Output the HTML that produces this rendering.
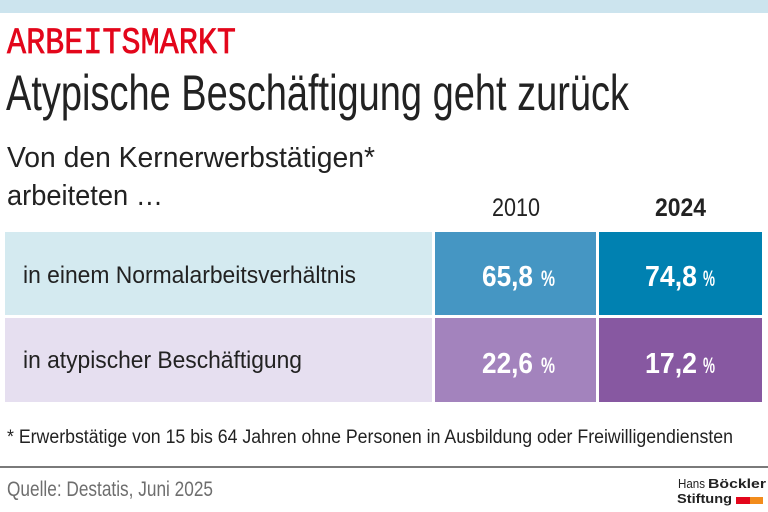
<!DOCTYPE html>
<html>
<head>
<meta charset="utf-8">
<style>
html,body{margin:0;padding:0;background:#fff;}
svg{display:block;}
</style>
</head>
<body>
<svg width="768" height="512" viewBox="0 0 768 512" xmlns="http://www.w3.org/2000/svg" font-family="Liberation Sans, sans-serif">
<rect x="0" y="0" width="768" height="512" fill="#ffffff"/>
<rect x="0" y="0" width="768" height="13" fill="#cce4ee"/>

<text x="7" y="53" style="font-family:'Liberation Mono',monospace" font-size="37" fill="#e3061b" stroke="#e3061b" stroke-width="0.7" textLength="229" lengthAdjust="spacingAndGlyphs">ARBEITSMARKT</text>

<text x="6" y="110" font-size="50" fill="#222" textLength="623" lengthAdjust="spacingAndGlyphs">Atypische Beschäftigung geht zurück</text>

<text x="7" y="167" font-size="29" fill="#222" textLength="368" lengthAdjust="spacingAndGlyphs">Von den Kernerwerbstätigen*</text>
<text x="7" y="205" font-size="29" fill="#222" textLength="156" lengthAdjust="spacingAndGlyphs">arbeiteten …</text>

<text x="492" y="216" font-size="25" fill="#222" textLength="48" lengthAdjust="spacingAndGlyphs">2010</text>
<text x="655" y="216" font-size="25" font-weight="bold" fill="#222" textLength="51" lengthAdjust="spacingAndGlyphs">2024</text>

<rect x="5" y="232" width="427" height="83" fill="#d4eaf0"/>
<rect x="435" y="232" width="161" height="83" fill="#4596c3"/>
<rect x="599" y="232" width="163" height="83" fill="#0081b1"/>
<rect x="5" y="318" width="427" height="84" fill="#e6dff0"/>
<rect x="435" y="318" width="161" height="84" fill="#a383bd"/>
<rect x="599" y="318" width="163" height="84" fill="#8758a1"/>

<text x="23" y="283" font-size="24" fill="#222" textLength="333" lengthAdjust="spacingAndGlyphs">in einem Normalarbeitsverhältnis</text>
<text x="23" y="368" font-size="24" fill="#222" textLength="279" lengthAdjust="spacingAndGlyphs">in atypischer Beschäftigung</text>

<text x="482" y="286" font-size="29" font-weight="bold" fill="#fff" textLength="51" lengthAdjust="spacingAndGlyphs">65,8</text>
<text x="541" y="286" font-size="22" font-weight="bold" fill="#fff" textLength="14" lengthAdjust="spacingAndGlyphs">%</text>
<text x="645" y="286" font-size="29" font-weight="bold" fill="#fff" textLength="52" lengthAdjust="spacingAndGlyphs">74,8</text>
<text x="703" y="286" font-size="22" font-weight="bold" fill="#fff" textLength="12" lengthAdjust="spacingAndGlyphs">%</text>
<text x="482" y="373" font-size="29" font-weight="bold" fill="#fff" textLength="51" lengthAdjust="spacingAndGlyphs">22,6</text>
<text x="541" y="373" font-size="22" font-weight="bold" fill="#fff" textLength="14" lengthAdjust="spacingAndGlyphs">%</text>
<text x="645" y="373" font-size="29" font-weight="bold" fill="#fff" textLength="52" lengthAdjust="spacingAndGlyphs">17,2</text>
<text x="703" y="373" font-size="22" font-weight="bold" fill="#fff" textLength="12" lengthAdjust="spacingAndGlyphs">%</text>

<text x="7" y="443" font-size="19" fill="#222" textLength="726" lengthAdjust="spacingAndGlyphs">* Erwerbstätige von 15 bis 64 Jahren ohne Personen in Ausbildung oder Freiwilligendiensten</text>

<rect x="0" y="466" width="768" height="2" fill="#7a7a7a"/>

<text x="7" y="496" font-size="21" fill="#6e6e6e" textLength="206" lengthAdjust="spacingAndGlyphs">Quelle: Destatis, Juni 2025</text>

<text x="678" y="488" font-size="13" fill="#222" textLength="27" lengthAdjust="spacingAndGlyphs">Hans</text>
<text x="708" y="488" font-size="13" font-weight="bold" fill="#222" textLength="58" lengthAdjust="spacingAndGlyphs">Böckler</text>
<text x="677" y="503" font-size="13" font-weight="bold" fill="#222" textLength="55" lengthAdjust="spacingAndGlyphs">Stiftung</text>
<rect x="736" y="497" width="14" height="7" fill="#e3061b"/>
<rect x="750" y="497" width="13" height="7" fill="#f28c1c"/>
</svg>
</body>
</html>
